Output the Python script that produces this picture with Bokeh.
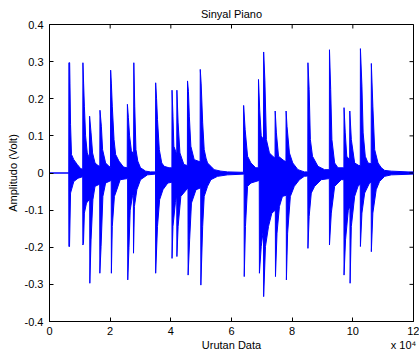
from bokeh.plotting import figure
from bokeh.models import FixedTicker, LinearAxis, Range1d
from bokeh.embed import file_html
from bokeh.resources import INLINE

# Signal envelope (sample index in units of 1e4, amplitude in volts)
upper_x = [0.00, 0.635,
           0.639, 0.665, 0.675, 0.694, 0.725, 0.80, 0.915, 1.025, 1.095,
           1.102, 1.125, 1.15, 1.19, 1.245, 1.315,
           1.322, 1.37, 1.42, 1.50, 1.60, 1.658,
           1.664, 1.71, 1.75, 1.85, 1.96, 2.010,
           2.016, 2.04, 2.07, 2.127, 2.18, 2.29, 2.44, 2.562,
           2.568, 2.60, 2.64, 2.70, 2.773,
           2.78, 2.81, 2.85, 2.91, 3.00, 3.17, 3.33, 3.495,
           3.50, 3.53, 3.56, 3.62, 3.70, 3.78, 3.94, 4.035,
           4.04, 4.07, 4.10, 4.195,
           4.20, 4.24, 4.30, 4.43, 4.545,
           4.55, 4.58, 4.61, 4.66, 4.77, 4.965,
           4.97, 5.00, 5.05, 5.10, 5.16, 5.21, 5.32, 5.43, 5.65, 5.87, 6.31, 6.395,
           6.40, 6.45, 6.53, 6.64, 6.80, 6.885,
           6.89, 6.93, 6.98, 7.055,
           7.06, 7.10, 7.15, 7.25, 7.36, 7.435,
           7.44, 7.48, 7.55, 7.70, 7.795,
           7.80, 7.83, 7.91, 8.02, 8.19, 8.40, 8.515,
           8.52, 8.56, 8.60, 8.67, 8.85, 9.07, 9.225,
           9.23, 9.27, 9.31, 9.40, 9.51, 9.705,
           9.71, 9.75, 9.80, 9.895,
           9.90, 9.95, 10.06, 10.20, 10.245,
           10.25, 10.30, 10.34, 10.41, 10.50, 10.605,
           10.61, 10.66, 10.72, 10.83, 10.94, 11.05, 11.27, 11.82, 12.00]
upper_y = [0.000, 0.000,
           0.297, 0.297, 0.240, 0.130, 0.050, 0.036, 0.023, 0.012, 0.010,
           0.297, 0.240, 0.180, 0.100, 0.054, 0.040,
           0.153, 0.108, 0.054, 0.027, 0.020, 0.018,
           0.169, 0.126, 0.063, 0.027, 0.018, 0.015,
           0.277, 0.240, 0.180, 0.090, 0.050, 0.032, 0.016, 0.014,
           0.185, 0.150, 0.100, 0.060, 0.050,
           0.297, 0.180, 0.063, 0.032, 0.014, 0.005, 0.003, 0.003,
           0.243, 0.200, 0.144, 0.063, 0.027, 0.018, 0.014, 0.014,
           0.223, 0.153, 0.072, 0.050,
           0.223, 0.135, 0.054, 0.023, 0.020,
           0.248, 0.220, 0.153, 0.072, 0.036, 0.030,
           0.279, 0.240, 0.135, 0.063, 0.040, 0.027, 0.018, 0.009, 0.005, 0.003, 0.002, 0.002,
           0.182, 0.117, 0.045, 0.027, 0.014, 0.014,
           0.252, 0.170, 0.100, 0.090,
           0.326, 0.250, 0.090, 0.054, 0.045, 0.040,
           0.167, 0.108, 0.045, 0.035, 0.030,
           0.167, 0.126, 0.054, 0.027, 0.009, 0.003, 0.003,
           0.297, 0.225, 0.090, 0.045, 0.018, 0.009, 0.009,
           0.332, 0.225, 0.090, 0.027, 0.014, 0.014,
           0.176, 0.108, 0.045, 0.035,
           0.167, 0.090, 0.027, 0.020, 0.020,
           0.335, 0.234, 0.108, 0.045, 0.027, 0.025,
           0.295, 0.180, 0.063, 0.027, 0.014, 0.007, 0.005, 0.003, 0.003]

lower_x = [0.00, 0.635,
           0.639, 0.66, 0.694, 0.80, 0.94, 1.095,
           1.10, 1.12, 1.15, 1.22, 1.325,
           1.33, 1.37, 1.43, 1.50, 1.655,
           1.66, 1.70, 1.76, 1.85, 2.035,
           2.04, 2.07, 2.14, 2.22, 2.33, 2.575,
           2.58, 2.62, 2.66, 2.74, 2.765,
           2.77, 2.80, 2.88, 3.00, 3.23, 3.495,
           3.50, 3.56, 3.63, 3.74, 3.90, 4.035,
           4.04, 4.07, 4.15, 4.195,
           4.20, 4.24, 4.33, 4.565,
           4.57, 4.62, 4.68, 4.83, 4.985,
           4.99, 5.05, 5.10, 5.21, 5.32, 5.54, 5.87, 6.415,
           6.42, 6.46, 6.53, 6.64, 6.915,
           6.92, 6.98, 7.055,
           7.06, 7.12, 7.22, 7.33, 7.445,
           7.45, 7.50, 7.58, 7.68, 7.805,
           7.81, 7.85, 7.94, 8.07, 8.24, 8.40, 8.515,
           8.52, 8.56, 8.63, 8.74, 8.96, 9.225,
           9.23, 9.29, 9.40, 9.62, 9.705,
           9.71, 9.76, 9.85, 9.905,
           9.91, 9.95, 10.06, 10.17, 10.245,
           10.25, 10.30, 10.39, 10.55, 10.605,
           10.61, 10.66, 10.77, 10.88, 11.05, 11.27, 12.00]
lower_y = [0.000, 0.000,
           -0.198, -0.198, -0.054, -0.023, -0.014, -0.010,
           -0.194, -0.190, -0.108, -0.081, -0.070,
           -0.297, -0.180, -0.072, -0.036, -0.030,
           -0.270, -0.198, -0.063, -0.027, -0.020,
           -0.270, -0.144, -0.063, -0.045, -0.018, -0.015,
           -0.288, -0.200, -0.100, -0.060, -0.060,
           -0.216, -0.090, -0.045, -0.018, -0.005, -0.003,
           -0.270, -0.144, -0.072, -0.045, -0.027, -0.025,
           -0.230, -0.144, -0.080, -0.060,
           -0.225, -0.144, -0.063, -0.040,
           -0.275, -0.180, -0.081, -0.045, -0.040,
           -0.302, -0.144, -0.063, -0.036, -0.018, -0.009, -0.005, -0.003,
           -0.279, -0.144, -0.036, -0.027, -0.020,
           -0.270, -0.198, -0.150,
           -0.333, -0.198, -0.144, -0.108, -0.100,
           -0.279, -0.162, -0.090, -0.063, -0.060,
           -0.288, -0.162, -0.063, -0.036, -0.018, -0.009, -0.008,
           -0.203, -0.117, -0.054, -0.036, -0.018, -0.015,
           -0.194, -0.108, -0.036, -0.018, -0.018,
           -0.275, -0.180, -0.100, -0.090,
           -0.297, -0.144, -0.063, -0.036, -0.030,
           -0.198, -0.108, -0.054, -0.027, -0.025,
           -0.212, -0.108, -0.045, -0.023, -0.009, -0.005, -0.003]

x_ticks = [0, 2, 4, 6, 8, 10, 12]
x_tick_labels = ["0", "2", "4", "6", "8", "10", "12"]
y_ticks = [-0.4, -0.3, -0.2, -0.1, 0.0, 0.1, 0.2, 0.3, 0.4]
y_tick_labels = ["-0.4", "-0.3", "-0.2", "-0.1", "0", "0.1", "0.2", "0.3", "0.4"]
title_text = "Sinyal Piano"
x_title = "Urutan Data"
x_scale_note = "x 10\u2074"
y_title = "Amplitudo (Volt)"

FONT = "Liberation Sans"
BLUE = "#0000ff"
X_MIN, X_MAX = 0, 12
Y_MIN, Y_MAX = -0.4, 0.4
X_TITLE_POS = 6
SCALE_NOTE_POS = 11.67

p = figure(width=419, height=355, output_backend="svg", toolbar_location=None,
           x_range=Range1d(X_MIN, X_MAX), y_range=Range1d(Y_MIN, Y_MAX),
           min_border_left=49, min_border_right=6, min_border_top=24, min_border_bottom=34,
           background_fill_color="white", border_fill_color="white")
p.grid.visible = False
p.outline_line_color = "black"
p.outline_line_width = 1

p.title.text = title_text
p.title.align = "center"
p.title.text_font = FONT
p.title.text_font_size = "11px"
p.title.text_font_style = "normal"
p.title.text_color = "black"
p.title.standoff = 9

p.patch(upper_x + lower_x[::-1], upper_y + lower_y[::-1],
        fill_color=BLUE, line_color=BLUE, line_width=1)

# inward tick marks on the top and right edges of the box (outer half is clipped by the frame)
p.scatter(x=x_ticks, y=[Y_MAX] * len(x_ticks), marker="dash", angle=1.5708, size=8,
          line_color="black", line_width=1)
p.scatter(x=[X_MAX] * len(y_ticks), y=y_ticks, marker="dash", size=8,
          line_color="black", line_width=1)


def style_axis(ax, ticks, labels):
    ax.ticker = FixedTicker(ticks=ticks)
    ax.major_label_overrides = {t: l for t, l in zip(ticks, labels)}
    ax.major_tick_in = 4
    ax.major_tick_out = 0
    ax.minor_tick_line_color = None
    ax.axis_line_color = "black"
    ax.major_tick_line_color = "black"
    ax.major_label_text_font = FONT
    ax.major_label_text_font_size = "11px"
    ax.major_label_text_color = "black"
    ax.axis_label_text_font = FONT
    ax.axis_label_text_font_size = "11px"
    ax.axis_label_text_font_style = "normal"
    ax.axis_label_text_color = "black"


style_axis(p.xaxis[0], x_ticks, x_tick_labels)
style_axis(p.yaxis[0], y_ticks, y_tick_labels)
p.xaxis[0].major_label_standoff = 5
p.yaxis[0].axis_label = y_title
p.yaxis[0].major_label_standoff = 6
p.yaxis[0].axis_label_standoff = 3

# second row below the tick labels: the axis title and the "x 10^4" scale note
note_axis = LinearAxis()
style_axis(note_axis, [X_TITLE_POS, SCALE_NOTE_POS], [x_title, x_scale_note])
note_axis.axis_line_color = None
note_axis.major_tick_line_color = None
note_axis.major_label_standoff = 1
p.add_layout(note_axis, "below")

open("out.html", "w").write(file_html(p, INLINE))
